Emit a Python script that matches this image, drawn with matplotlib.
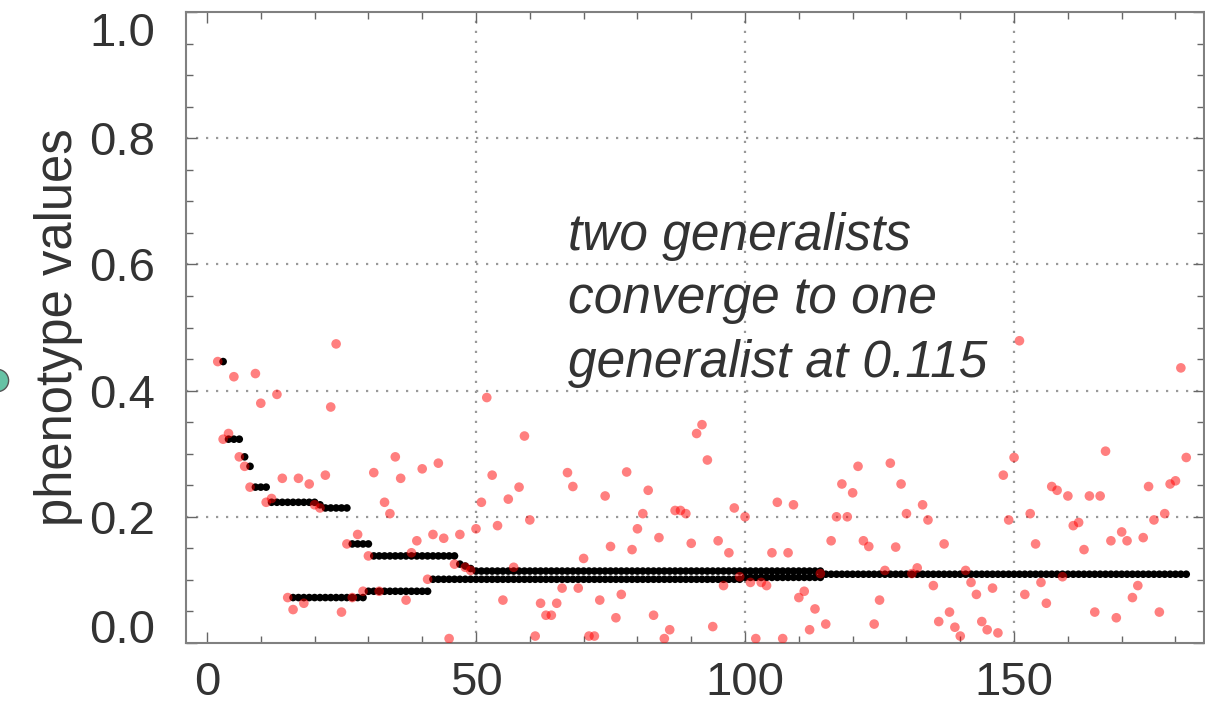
import numpy as np
import matplotlib.pyplot as plt
from matplotlib.lines import Line2D

plt.rcParams['font.family'] = ['Liberation Sans', 'DejaVu Sans']

# mutant phenotypes (red), one per time step, t = 2..182
red_t = np.arange(2, 183)
red_v = [0.446, 0.323, 0.332, 0.422, 0.295, 0.280, 0.247, 0.427, 0.380, 0.223,
         0.229, 0.394, 0.261, 0.072, 0.053, 0.261, 0.063, 0.252, 0.219, 0.214,
         0.266, 0.374, 0.474, 0.049, 0.157, 0.072, 0.172, 0.082, 0.138, 0.270,
         0.082, 0.223, 0.205, 0.295, 0.261, 0.068, 0.143, 0.162, 0.276, 0.101,
         0.172, 0.285, 0.166, 0.007, 0.125, 0.172, 0.120, 0.115, 0.181, 0.223,
         0.389, 0.266, 0.186, 0.068, 0.228, 0.120, 0.247, 0.328, 0.195, 0.011,
         0.063, 0.044, 0.044, 0.063, 0.087, 0.270, 0.248, 0.087, 0.134, 0.011,
         0.011, 0.068, 0.233, 0.153, 0.040, 0.077, 0.271, 0.148, 0.181, 0.205,
         0.242, 0.044, 0.167, 0.007, 0.021, 0.210, 0.210, 0.205, 0.158, 0.332,
         0.346, 0.290, 0.026, 0.162, 0.091, 0.143, 0.214, 0.105, 0.200, 0.096,
         0.007, 0.096, 0.091, 0.143, 0.223, 0.007, 0.143, 0.219, 0.072, 0.082,
         0.021, 0.054, 0.110, 0.030, 0.162, 0.200, 0.252, 0.200, 0.238, 0.280,
         0.162, 0.153, 0.030, 0.068, 0.115, 0.285, 0.152, 0.252, 0.205, 0.110,
         0.119, 0.219, 0.195, 0.091, 0.034, 0.157, 0.049, 0.025, 0.011, 0.115,
         0.096, 0.077, 0.034, 0.021, 0.087, 0.016, 0.266, 0.195, 0.294, 0.479,
         0.077, 0.205, 0.157, 0.096, 0.063, 0.248, 0.242, 0.105, 0.233, 0.186,
         0.191, 0.148, 0.233, 0.049, 0.233, 0.304, 0.162, 0.040, 0.176, 0.162,
         0.072, 0.091, 0.167, 0.248, 0.195, 0.049, 0.205, 0.252, 0.257, 0.436,
         0.294]

# resident phenotypes (black): constant stretches, first step, last step, value
res_start = [3, 4, 7, 8, 9, 12, 21, 22, 27, 31, 47, 48, 49, 50, 16, 30, 42, 100, 115]
res_end = [3, 6, 7, 8, 11, 20, 21, 26, 30, 46, 47, 48, 49, 114, 29, 41, 99, 114, 182]
res_value = [0.446, 0.323, 0.295, 0.280, 0.247, 0.223, 0.219, 0.214, 0.157, 0.138,
             0.125, 0.122, 0.118, 0.114, 0.072, 0.082, 0.101, 0.104, 0.109]

res_t = []
res_v = []
for a, b, v in zip(res_start, res_end, res_value):
    for t in range(a, b + 1):
        res_t.append(t)
        res_v.append(v)

fig = plt.figure(figsize=(12.05, 7.05), dpi=100)
ax = fig.add_axes([186 / 1205, 62 / 705, 1018 / 1205, 631 / 705])

# grid (dotted, only inner major lines)
for x in [50, 100, 150]:
    ax.axvline(x, color='#999999', linestyle=(0, (1, 3.5)), linewidth=1.6, zorder=1)
for y in [0.2, 0.4, 0.6, 0.8]:
    ax.axhline(y, color='#999999', linestyle=(0, (1, 3.5)), linewidth=1.6, zorder=1)

ax.scatter(res_t, res_v, s=30, c='black', edgecolors='none', zorder=3)
ax.scatter(red_t, red_v, s=48, c='red', alpha=0.5, edgecolors='none', zorder=4)

ax.text(67.1, 0.5436, 'two generalists\nconverge to one\ngeneralist at 0.115',
        style='italic', fontsize=37, color='#333333', ha='left', va='center',
        linespacing=1.37)

ax.set_xlim(-3.9, 185.3)
ax.set_ylim(0, 1.0)
ax.set_xticks([0, 50, 100, 150])
ax.set_xticks(np.arange(0, 190, 10), minor=True)
ax.set_yticks([0.0, 0.2, 0.4, 0.6, 0.8, 1.0])
ax.set_yticks(np.arange(0, 1.01, 0.05), minor=True)
ax.set_yticklabels(['0.0', '0.2', '0.4', '0.6', '0.8', '1.0'])

ax.tick_params(which='both', direction='in', top=True, right=True,
               color='#666666', width=1, labelsize=34, labelcolor='#333333')
ax.tick_params(which='major', length=8)
ax.tick_params(which='minor', length=5)
ax.tick_params(axis='y', pad=22)
ax.tick_params(axis='x', pad=13)

yt = ax.yaxis.get_major_ticks()
yt[0].label1.set_verticalalignment('baseline')
yt[-1].label1.set_verticalalignment('top')

for s in ax.spines.values():
    s.set_color('#808080')
    s.set_linewidth(1.5)

ax.set_ylabel('phenotype values', fontsize=36.5, color='#333333')
ax.yaxis.set_label_coords(-0.101, 0.5)

# green marker cut off at the left edge
fig.add_artist(Line2D([-3 / 1205], [(705 - 379.5) / 705], marker='o', markersize=16,
                      markerfacecolor='#66c2a5', markeredgecolor='#555555',
                      markeredgewidth=1, transform=fig.transFigure))

fig.savefig('out.png', dpi=100)
